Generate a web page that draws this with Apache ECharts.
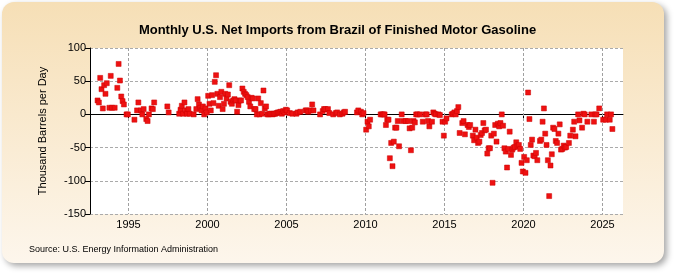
<!DOCTYPE html>
<html>
<head>
<meta charset="utf-8">
<script src="https://cdn.jsdelivr.net/npm/echarts@6/dist/echarts.min.js"></script>
<style>
  html, body { margin: 0; padding: 0; background: #fff; }
  #chart { width: 675px; height: 275px; }
</style>
</head>
<body>
<div id="chart"></div>
<script>
// monthly values, thousand barrels per day (null = no data), one row per year
var years = [1993, 1994, 1995, 1996, 1997, 1998, 1999, 2000, 2001, 2002, 2003, 2004,
  2005, 2006, 2007, 2008, 2009, 2010, 2011, 2012, 2013, 2014, 2015, 2016, 2017,
  2018, 2019, 2020, 2021, 2022, 2023, 2024, 2025];
var monthly = [
  [21, 18, 55, 38, 9, 44, 31, 47, null, 10, 58, 10],
  [null, 10, null, 40, 76, 51, 27, 20, 15, null, 0, 0],
  [null, null, null, null, -8, null, 6, 18, null, 6, 0, 8],
  [null, -7, -10, 0, null, 9, 8, 18, null, null, null, null],
  [null, null, null, null, null, 12, 3, null, null, null, null, null],
  [null, null, 1, 7, 13, 1, 18, 6, 1, 8, 1, null],
  [null, 0, null, 8, 23, 15, 10, 6, 12, 0, 9, 3],
  [28, 16, 6, 29, 17, 49, 59, 31, 13, 26, 34, 8],
  [16, 31, 24, 30, 44, 19, 16, 21, 23, 21, 4, 14],
  [21, 21, 39, 34, 31, 29, 26, 19, 12, 25, 24, 8],
  [8, 0, 24, 0, 17, 1, 36, 9, 12, 0, 0, 1],
  [1, 0, 1, 1, 2, 3, 3, 4, 1, 5, 3, 7],
  [6, null, 2, null, 1, null, null, 1, 3, null, 4, null],
  [null, null, 6, 6, 4, null, 6, 15, 6, null, null, null],
  [null, 0, null, 5, 8, 8, null, 8, 2, null, null, 0],
  [null, 2, 3, null, 0, null, 1, 3, 4, null, null, null],
  [null, null, null, null, null, 3, 6, null, 4, 0, 2, null],
  [-23, -11, -18, -8, null, null, null, null, null, null, null, 0],
  [0, 0, 0, -16, -8, -8, -66, -43, -78, -41, -20, -20],
  [-10, -48, null, 0, -10, null, -10, null, -10, -21, -54, -20],
  [-10, -12, 0, 0, null, 0, null, -11, null, 0, 0, -10],
  [-18, null, -11, 3, 1, 0, null, 0, -1, null, -11, -32],
  [-11, -6, null, null, null, 0, 1, 3, 0, 5, 11, -28],
  [null, -13, -10, -30, null, -16, -19, -16, null, -32, -39, -23],
  [-35, -43, -41, -31, -28, -13, -24, -23, -59, -51, -51, -32],
  [-103, -29, -16, -41, -14, -18, -13, 0, -17, -51, -56, -80],
  [-52, -26, -61, -53, -50, -49, -42, -48, -46, -52, -73, -86],
  [-64, -88, -69, 33, -7, -46, -38, -62, -63, -58, -69, null],
  [-40, -38, -11, 9, -29, -46, -69, -123, -77, -60, -20, -22],
  [-40, -43, -29, -15, -53, -52, -47, -50, -49, null, -43, -32],
  [null, -23, -11, -33, null, 0, -9, null, -20, 1, 0, null],
  [-11, null, null, 0, null, -11, 0, 0, null, 9, null, null],
  [-8, null, -8, 0, null, -8, 0, -22, null, null, null, null]
];
var xTicks = [1995, 2000, 2005, 2010, 2015, 2020, 2025];
var yMin = -150, yMax = 100;
// x range chosen so 5 years = 79px and year ticks land on pixel centres
var xMin = 1992.5633, xMax = 2026.2975;

(function () {
  var points = [];
  for (var i = 0; i < years.length; i++) {
    for (var m = 0; m < 12; m++) {
      if (monthly[i][m] !== null) points.push([years[i] + (m + 0.5) / 12, monthly[i][m]]);
    }
  }

  var sans = "'Liberation Sans', Arial, sans-serif";
  var chart = echarts.init(document.getElementById('chart'));

  var option = {
    animation: false,
    graphic: [
      {
        id: 'bg', type: 'rect', z: -10,
        shape: { x: 2, y: 2, width: 662, height: 261, r: 12 },
        style: {
          fill: new echarts.graphic.LinearGradient(0, 0, 0, 1, [
            { offset: 0, color: '#f6dfb6' },
            { offset: 1, color: '#fdf6ec' }
          ]),
          shadowBlur: 6, shadowOffsetX: 3, shadowOffsetY: 3,
          shadowColor: 'rgba(0,0,0,0.35)'
        }
      },
      {
        id: 'plotbg', type: 'rect', z: -5, silent: true,
        shape: { x: 90, y: 48, width: 533, height: 166 },
        style: { fill: '#fff' }
      },
      {
        id: 'source', type: 'text', left: 29, top: 245,
        style: { text: 'Source: U.S. Energy Information Administration', font: '9px ' + sans, fill: '#000' }
      }
    ],
    title: {
      text: 'Monthly U.S. Net Imports from Brazil of Finished Motor Gasoline',
      left: 'center', top: 19,
      textStyle: { fontSize: 13, fontWeight: 'bold', fontFamily: sans, color: '#000' }
    },
    grid: { left: 90, right: 52, top: 48, bottom: 61, show: false },
    xAxis: {
      type: 'value', min: xMin, max: xMax,
      axisLine: { lineStyle: { color: '#000', width: 1 } },
      axisTick: { customValues: xTicks, length: 4, lineStyle: { color: '#000' } },
      axisLabel: {
        customValues: xTicks, color: '#000', fontSize: 11, fontFamily: sans, margin: 5,
        formatter: function (v) { return String(v); }
      },
      splitLine: { show: false }
    },
    yAxis: {
      type: 'value', min: yMin, max: yMax, interval: 50,
      name: 'Thousand Barrels per Day', nameLocation: 'middle', nameGap: 42,
      nameTextStyle: { fontSize: 11, fontFamily: sans, color: '#000' },
      axisLine: { show: true, lineStyle: { color: '#000', width: 1 } },
      axisTick: { show: true, length: 5, lineStyle: { color: '#000' } },
      axisLabel: { color: '#000', fontSize: 11, fontFamily: sans, margin: 4 },
      splitLine: { show: true, lineStyle: { color: '#aaa', type: [3, 2] } }
    },
    series: [
      {
        // vertical dashed year gridlines
        type: 'custom', silent: true, z: 2,
        data: xTicks,
        encode: { x: 0 },
        renderItem: function (params, api) {
          var p1 = api.coord([api.value(0), yMax]);
          var p2 = api.coord([api.value(0), yMin]);
          var x = Math.round(p1[0] - 0.5) + 0.5;
          return {
            type: 'line',
            shape: { x1: x, y1: p1[1], x2: x, y2: p2[1] },
            style: { stroke: '#a0a0a0', lineWidth: 1, lineDash: [3, 2] }
          };
        }
      },
      {
        type: 'scatter',
        data: points,
        symbol: 'rect',
        symbolSize: 5,
        z: 3,
        itemStyle: { color: '#ee1111', borderColor: '#cc0000', borderWidth: 0.5, opacity: 1 }
      }
    ]
  };
  chart.setOption(option);
})();
</script>
</body>
</html>
